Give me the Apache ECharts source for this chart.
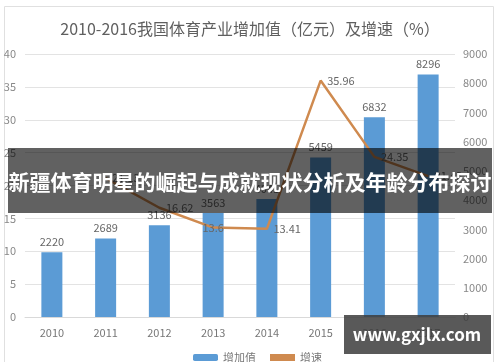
<!DOCTYPE html>
<html>
<head>
<meta charset="utf-8">
<script src="https://cdn.jsdelivr.net/npm/echarts@6/dist/echarts.min.js"></script>
<style>
html,body{margin:0;padding:0;background:#fff;}
#chart{width:500px;height:362px;}
</style>
</head>
<body>
<div id="chart"></div>
<script>
var titleText = '2010-2016我国体育产业增加值（亿元）及增速（%）';
var categories = ['2010','2011','2012','2013','2014','2015','2016','2017'];
var addedValue = [2220, 2689, 3136, 3563, 4041, 5459, 6832, 8296];
var growthRate = [null, 21.13, 16.62, 13.6, 13.41, 35.96, 24.35, 21.43];
var leftTicks = {min: 0, max: 40, interval: 5};
var rightTicks = {min: 0, max: 9000, interval: 1000};
var seriesNames = ['增加值', '增速'];
var overlayText = '新疆体育明星的崛起与成就现状分析及年龄分布探讨';
var watermarkText = 'www.gxjlx.com';

var font = '"Noto Sans CJK SC", "Noto Sans", sans-serif';
var chart = echarts.init(document.getElementById('chart'), null, {renderer: 'canvas'});

var lineData = growthRate.map(function (v, i) {
  if (v === null) return '-';
  if (i === 3) return {value: v, label: {position: 'inside'}};
  return v;
});

chart.setOption({
  animation: false,
  textStyle: {fontFamily: font},
  title: {
    text: titleText,
    left: 'center',
    top: 16,
    textStyle: {fontSize: 16, fontWeight: 'normal', color: '#5f5f5f', fontFamily: font}
  },
  legend: {
    bottom: -6,
    left: 188,
    itemWidth: 25,
    itemHeight: 7,
    itemGap: 14,
    textStyle: {fontSize: 11, color: '#777'},
    data: [{name: seriesNames[0]}, {name: seriesNames[1], icon: 'rect'}]
  },
  grid: {left: 25, right: 45, top: 54, bottom: 45},
  xAxis: {
    type: 'category',
    data: categories,
    axisLine: {lineStyle: {color: '#d9d9d9'}},
    axisTick: {show: false},
    axisLabel: {color: '#777', fontSize: 11, margin: 10}
  },
  yAxis: [
    {
      type: 'value', min: leftTicks.min, max: leftTicks.max, interval: leftTicks.interval,
      axisLine: {show: false}, axisTick: {show: false},
      axisLabel: {color: '#888', fontSize: 11, margin: 9, formatter: '{value}'},
      splitLine: {lineStyle: {color: '#e3e3e3'}}
    },
    {
      type: 'value', min: rightTicks.min, max: rightTicks.max, interval: rightTicks.interval,
      axisLine: {show: false}, axisTick: {show: false},
      axisLabel: {color: '#888', fontSize: 11, margin: 8, align: 'left', formatter: function (v) { return String(v); }},
      splitLine: {show: false}
    }
  ],
  series: [
    {
      name: seriesNames[0],
      type: 'bar',
      yAxisIndex: 1,
      data: addedValue,
      barWidth: 21,
      itemStyle: {color: '#5b9bd5'},
      label: {show: true, position: 'top', color: '#666', fontSize: 11, distance: 5}
    },
    {
      name: seriesNames[1],
      type: 'line',
      yAxisIndex: 0,
      data: lineData,
      symbol: 'circle',
      symbolSize: 1,
      showSymbol: true,
      lineStyle: {color: '#cf8a4f', width: 2.5},
      itemStyle: {color: '#cf8a4f'},
      label: {show: true, position: 'right', color: '#666', fontSize: 11, distance: 6},
      labelLayout: {hideOverlap: false}
    }
  ],
  graphic: [
    {type: 'rect', z: -10, shape: {x: 4.5, y: 6.5, width: 489, height: 360}, style: {fill: 'none', stroke: '#e0e0e0', lineWidth: 1}},
    {type: 'rect', z: 100, shape: {x: 8, y: 148, width: 484, height: 65}, style: {fill: 'rgba(0,0,0,0.62)'}},
    {type: 'text', z: 101, x: 250, y: 182, style: {text: overlayText, fill: '#fff', font: 'bold 21px ' + font, textAlign: 'center', textVerticalAlign: 'middle'}},
    {type: 'rect', z: 100, shape: {x: 344, y: 315, width: 147, height: 39}, style: {fill: 'rgba(60,60,60,0.85)'}},
    {type: 'text', z: 101, x: 417, y: 335, style: {text: watermarkText, fill: '#fff', font: 'bold 17px ' + font, textAlign: 'center', textVerticalAlign: 'middle'}}
  ]
});
</script>
</body>
</html>
